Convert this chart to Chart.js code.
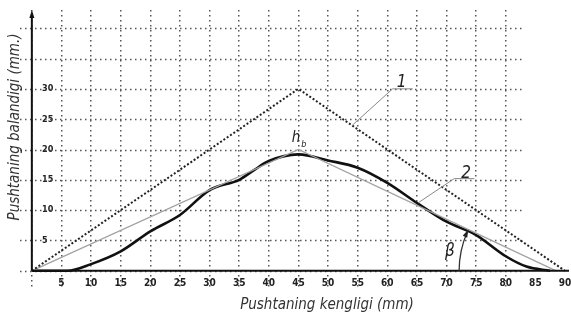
<!DOCTYPE html>
<html>
<head>
<meta charset="utf-8">
<script src="https://cdn.jsdelivr.net/npm/chart.js@4.4.0/dist/chart.umd.min.js"></script>
<style>
  html, body { margin: 0; padding: 0; background: #fff; }
  #wrap { width: 571px; height: 315px; }
</style>
</head>
<body>
<div id="wrap"><canvas id="chart-1"></canvas></div>
<script>
// 1 - nazariy uchburchak profil
const triX = [0, 45, 90];
const triY = [0, 30, 0];
// 2 - to'g'ri chiziqli yaqinlashish
const approxX = [0, 45, 88.5];
const approxY = [0, 20, 0];
// haqiqiy profil (qalin chiziq)
const profX = [0, 6, 10, 15, 20, 25, 30, 35, 37.5, 40, 45, 50, 55, 60, 65, 70, 75, 80, 83.5, 87.5];
const profY = [0, 0, 1.1, 3.2, 6.5, 9.2, 13.3, 15, 16.6, 18.1, 19.2, 18.2, 17, 14.5, 11.2, 8.1, 5.9, 2.4, 0.7, 0];

const xTickLabels = [5, 10, 15, 20, 25, 30, 35, 40, 45, 50, 55, 60, 65, 70, 75, 80, 85, 90];
const yTickLabels = [5, 10, 15, 20, 25, 30];
const xGridMax = 80;
const yGrid = [0, 5, 10, 15, 20, 25, 30, 35, 40];

const xTitle = "Pushtaning kengligi (mm)";
const yTitle = "Pushtaning balandigi (mm.)";

const toPts = (xs, ys) => xs.map((v, i) => ({ x: v, y: ys[i] }));

const gridColor = "#555";
const titleFont = 'italic 15px "DejaVu Sans Condensed", "DejaVu Sans", sans-serif';

const noSpace = (s) => {
  if (s.isHorizontal()) s.height = 0; else s.width = 0;
  s.paddingTop = 0; s.paddingBottom = 0; s.paddingLeft = 0; s.paddingRight = 0;
};

const extras = {
  id: "extras",
  beforeDatasetsDraw(chart) {
    const { ctx, scales: { x, y } } = chart;
    // horizontal dotted grid (stops before 85)
    ctx.save();
    ctx.strokeStyle = gridColor;
    ctx.lineWidth = 1.5;
    ctx.setLineDash([1.5, 3.5]);
    yGrid.forEach(v => {
      const py = Math.round(y.getPixelForValue(v)) + 0.5;
      ctx.beginPath();
      ctx.moveTo(x.getPixelForValue(-2), py);
      ctx.lineTo(x.getPixelForValue(83), py);
      ctx.stroke();
    });
    ctx.restore();
  },
  afterDatasetsDraw(chart) {
    const { ctx, scales: { x, y } } = chart;
    const x0 = x.getPixelForValue(0);
    const y0 = y.getPixelForValue(0);
    ctx.save();
    // axes
    ctx.strokeStyle = "#111";
    ctx.fillStyle = "#111";
    ctx.lineWidth = 2;
    ctx.beginPath();
    ctx.moveTo(x0, y0);
    ctx.lineTo(569, y0);
    ctx.moveTo(x0, y0);
    ctx.lineTo(x0, 16);
    ctx.stroke();
    ctx.beginPath();
    ctx.moveTo(x0, 10);
    ctx.lineTo(x0 - 2.5, 18);
    ctx.lineTo(x0 + 2.5, 18);
    ctx.closePath();
    ctx.fill();

    // leader 1
    ctx.strokeStyle = "#888";
    ctx.lineWidth = 1;
    ctx.beginPath();
    ctx.moveTo(x.getPixelForValue(54.1), y.getPixelForValue(24.0));
    ctx.lineTo(x.getPixelForValue(60.9), y.getPixelForValue(30));
    ctx.lineTo(x.getPixelForValue(64.3), y.getPixelForValue(30));
    ctx.stroke();
    // leader 2
    ctx.beginPath();
    ctx.moveTo(x.getPixelForValue(65.2), y.getPixelForValue(11.2));
    ctx.lineTo(x.getPixelForValue(71.3), y.getPixelForValue(15.2));
    ctx.lineTo(x.getPixelForValue(74.7), y.getPixelForValue(15.2));
    ctx.stroke();

    ctx.fillStyle = "#222";
    ctx.textAlign = "center";
    ctx.textBaseline = "alphabetic";
    ctx.font = 'italic 17px "DejaVu Sans Condensed", "DejaVu Sans", sans-serif';
    ctx.fillText("1", x.getPixelForValue(62.4), y.getPixelForValue(30) - 2);
    ctx.fillText("2", x.getPixelForValue(73.3), y.getPixelForValue(15.2) - 1);

    // h_b
    ctx.font = 'italic 15px "DejaVu Sans Condensed", "DejaVu Sans", sans-serif';
    ctx.fillText("h", x.getPixelForValue(44.6), y.getPixelForValue(21.5) + 2);
    ctx.font = 'italic 9px "DejaVu Sans Condensed", "DejaVu Sans", sans-serif';
    ctx.fillText("b", x.getPixelForValue(45.9), y.getPixelForValue(20.7) + 2);

    // beta angle
    const cx = x.getPixelForValue(approxX[2]);
    const ax = x.getPixelForValue(approxX[1]), ay = y.getPixelForValue(approxY[1]);
    const ang = Math.atan2(ay - y0, ax - cx) + 2 * Math.PI;
    const r = 97;
    ctx.strokeStyle = "#333";
    ctx.lineWidth = 1.3;
    ctx.beginPath();
    ctx.arc(cx, y0, r, Math.PI, ang - 0.03, false);
    ctx.stroke();
    const ex = cx + r * Math.cos(ang), ey = y0 + r * Math.sin(ang);
    const tx = -Math.sin(ang), ty = Math.cos(ang);
    ctx.fillStyle = "#222";
    ctx.beginPath();
    ctx.moveTo(ex, ey);
    ctx.lineTo(ex - tx * 8 - ty * 2.5, ey - ty * 8 + tx * 2.5);
    ctx.lineTo(ex - tx * 8 + ty * 2.5, ey - ty * 8 - tx * 2.5);
    ctx.closePath();
    ctx.fill();
    ctx.font = 'italic 17px "DejaVu Sans Condensed", "DejaVu Sans", sans-serif';
    ctx.fillText("\u03B2", 450, 256);

    // axis titles
    ctx.fillStyle = "#333";
    ctx.font = titleFont;
    ctx.textBaseline = "middle";
    ctx.fillText(xTitle, 327, 305);
    ctx.translate(15, 127);
    ctx.rotate(-Math.PI / 2);
    ctx.fillText(yTitle, 0, 0);
    ctx.restore();
  }
};

const ctx1 = document.getElementById("chart-1").getContext("2d");
const myChart = new Chart(ctx1, {
  type: "line",
  data: {
    datasets: [
      {
        label: "1",
        data: toPts(triX, triY),
        borderColor: "#222",
        borderWidth: 2,
        borderDash: [2, 2],
        pointRadius: 0,
        tension: 0,
      },
      {
        label: "2",
        data: toPts(approxX, approxY),
        borderColor: "#a2a2a2",
        borderWidth: 1.3,
        pointRadius: 0,
        tension: 0,
      },
      {
        label: "profil",
        data: toPts(profX, profY),
        borderColor: "#111",
        borderWidth: 2.6,
        pointRadius: 0,
        cubicInterpolationMode: "monotone",
      },
    ],
  },
  options: {
    responsive: true,
    maintainAspectRatio: false,
    animation: false,
    layout: { padding: { left: 20, right: 6, top: 10, bottom: 26 } },
    plugins: { legend: { display: false }, tooltip: { enabled: false } },
    scales: {
      x: {
        type: "linear",
        position: { y: 0 },
        min: -2,
        max: 90,
        afterFit: noSpace,
        border: { display: false, dash: [1.5, 3.5] },
        grid: {
          drawTicks: false,
          lineWidth: 1.5,
          color: (c) => (c.tick && c.tick.value <= xGridMax ? gridColor : "rgba(0,0,0,0)"),
        },
        ticks: {
          includeBounds: false,
          stepSize: 5,
          padding: 7,
          maxRotation: 0,
          autoSkip: false,
          color: "#222",
          font: { family: '"DejaVu Sans Condensed", "DejaVu Sans"', size: 10, weight: "bold" },
          callback: (v) => (xTickLabels.includes(v) ? String(v) : ""),
        },
      },
      y: {
        type: "linear",
        position: "left",
        min: -3,
        max: 43,
        afterFit: noSpace,
        border: { display: false },
        grid: { display: false },
        ticks: {
          includeBounds: false,
          stepSize: 5,
          mirror: true,
          padding: 22,
          color: "#222",
          font: { family: '"DejaVu Sans Condensed", "DejaVu Sans"', size: 9, weight: "bold" },
          callback: (v) => (yTickLabels.includes(v) ? String(v) : ""),
        },
      },
    },
  },
  plugins: [extras],
});
</script>
</body>
</html>
